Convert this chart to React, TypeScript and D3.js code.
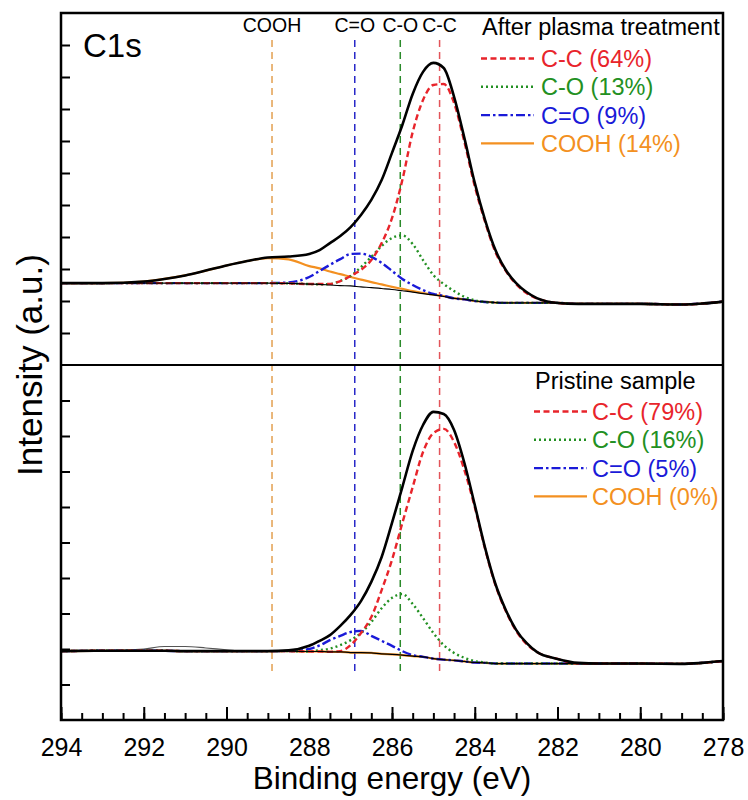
import React, { useEffect, useRef } from 'react';
import * as d3 from 'd3';

const WIDTH = 748;
const HEIGHT = 800;
const MARGIN = { top: 13, right: 25, bottom: 80, left: 61 };
const SPLIT = 365; // border between the two stacked panels
const FONT = '"Liberation Sans", Arial, sans-serif';

// binding energy grid (eV)
const energy = [294, 293, 292, 291.5, 291, 290.5, 290, 289.5, 289, 288.5, 288, 287.75, 287.5, 287.25, 287, 286.75, 286.5, 286.25, 286, 285.75, 285.5, 285.25, 285, 284.75, 284.5, 284.25, 284, 283.75, 283.5, 283.25, 283, 282.75, 282.5, 282, 281.5, 281, 280, 279, 278.5, 278];

// after plasma treatment
const topEnvelope = [25.6, 25.6, 26.1, 26.9, 28.0, 29.5, 31.1, 32.5, 33.6, 33.9, 34.7, 35.9, 38.1, 40.3, 43.1, 46.9, 51.6, 57.8, 66.3, 75.0, 84.7, 91.6, 94.4, 92.8, 83.8, 70.9, 56.9, 45.3, 35.9, 29.7, 25.6, 22.8, 20.9, 19.4, 19.1, 19.1, 19.1, 18.9, 19.2, 19.8];
const topBackground = [25.6, 25.6, 25.6, 25.6, 25.6, 25.6, 25.6, 25.6, 25.6, 25.5, 25.3, 25.2, 25.0, 24.8, 24.7, 24.4, 24.2, 23.9, 23.6, 23.2, 22.8, 22.3, 21.9, 21.4, 20.8, 20.5, 20.0, 19.7, 19.5, 19.4, 19.4, 19.4, 19.4, 19.4, 19.1, 19.1, 19.1, 18.9, 19.2, 19.8];
const topCC = [25.6, 25.6, 25.6, 25.6, 25.6, 25.6, 25.6, 25.6, 25.6, 25.5, 25.3, 25.3, 25.3, 26.2, 27.8, 29.7, 32.8, 38.1, 45.9, 57.8, 72.8, 82.8, 87.5, 87.8, 81.9, 69.7, 55.9, 44.7, 35.3, 29.4, 25.3, 22.5, 20.8, 19.4, 19.1, 19.1, 19.1, 18.9, 19.2, 19.8];
const topCO = [25.6, 25.6, 25.6, 25.6, 25.6, 25.6, 25.6, 25.6, 25.6, 25.5, 25.3, 25.2, 25.3, 26.3, 27.8, 30.6, 33.8, 37.2, 39.7, 40.5, 37.8, 32.8, 28.1, 25.3, 23.1, 21.3, 20.2, 19.7, 19.5, 19.4, 19.4, 19.4, 19.4, 19.4, 19.1, 19.1, 19.1, 18.9, 19.2, 19.8];
const topCdO = [25.6, 25.6, 25.6, 25.6, 25.6, 25.6, 25.6, 25.6, 25.6, 25.8, 27.5, 29.4, 31.3, 33.1, 34.7, 34.8, 33.8, 31.9, 29.4, 26.9, 25.0, 23.4, 22.2, 21.6, 20.8, 20.5, 20.0, 19.7, 19.5, 19.4, 19.4, 19.4, 19.4, 19.4, 19.1, 19.1, 19.1, 18.9, 19.2, 19.8];
const topCOOH = [25.6, 25.6, 26.1, 26.9, 28.0, 29.5, 31.1, 32.5, 33.4, 33.0, 30.9, 30.2, 29.2, 28.4, 27.5, 26.7, 25.9, 25.2, 24.4, 23.8, 23.1, 22.5, 22.0, 21.5, 20.9, 20.5, 20.0, 19.7, 19.5, 19.4, 19.4, 19.4, 19.4, 19.4, 19.1, 19.1, 19.1, 18.9, 19.2, 19.8];

// pristine sample
const bottomRaw = [19.4, 19.5, 20.0, 20.7, 20.7, 20.3, 19.8, 19.4, 19.4, 19.6, 20.9, 22.3, 23.9, 26.5, 29.6, 33.5, 38.9, 45.9, 55.5, 65.6, 75.8, 83.1, 86.8, 86.2, 81.7, 72.4, 60.6, 48.5, 38.3, 31.0, 25.4, 21.7, 19.2, 17.2, 16.1, 15.9, 15.9, 15.8, 16.1, 16.6];
const bottomEnvelope = [19.4, 19.5, 19.5, 19.5, 19.4, 19.4, 19.4, 19.4, 19.4, 19.6, 20.9, 22.3, 23.9, 26.5, 29.6, 33.5, 38.9, 45.9, 55.5, 65.6, 75.8, 83.1, 86.8, 86.2, 81.7, 72.4, 60.6, 48.5, 38.3, 31.0, 25.4, 21.7, 19.2, 17.2, 16.1, 15.9, 15.9, 15.8, 16.1, 16.6];
const bottomBackground = [19.4, 19.5, 19.5, 19.5, 19.4, 19.4, 19.4, 19.4, 19.4, 19.4, 19.3, 19.3, 19.2, 19.2, 19.0, 19.0, 18.9, 18.6, 18.5, 18.3, 18.0, 17.8, 17.3, 17.0, 16.8, 16.5, 16.2, 16.1, 15.9, 15.9, 15.9, 15.9, 15.9, 15.9, 15.9, 15.9, 15.9, 15.8, 16.1, 16.6];
const bottomCC = [19.4, 19.5, 19.5, 19.5, 19.4, 19.4, 19.4, 19.4, 19.4, 19.4, 19.3, 19.3, 19.2, 19.4, 21.1, 24.5, 29.0, 36.6, 45.1, 55.5, 65.6, 75.5, 80.8, 82.0, 78.3, 70.4, 60.0, 48.2, 38.0, 30.7, 25.1, 21.4, 19.2, 17.2, 15.9, 15.9, 15.9, 15.8, 16.1, 16.6];
const bottomCO = [19.4, 19.5, 19.5, 19.5, 19.4, 19.4, 19.4, 19.4, 19.4, 19.4, 19.3, 19.7, 20.1, 21.1, 22.5, 24.5, 27.6, 31.5, 34.4, 35.5, 32.7, 28.7, 24.5, 21.1, 18.9, 17.5, 16.6, 16.2, 15.9, 15.9, 15.9, 15.9, 15.9, 15.9, 15.9, 15.9, 15.9, 15.8, 16.1, 16.6];
const bottomCdO = [19.4, 19.5, 19.5, 19.5, 19.4, 19.4, 19.4, 19.4, 19.4, 19.4, 20.0, 21.0, 22.5, 23.7, 24.8, 25.1, 23.7, 22.3, 20.9, 19.4, 18.3, 17.8, 17.3, 17.0, 16.8, 16.5, 16.2, 16.1, 15.9, 15.9, 15.9, 15.9, 15.9, 15.9, 15.9, 15.9, 15.9, 15.8, 16.1, 16.6];
const bottomCOOH = bottomBackground; // 0 %

const components = ['C-C', 'C-O', 'C=O', 'COOH'];
const topShares = [64, 13, 9, 14];
const bottomShares = [79, 16, 5, 0];
const peakEnergy = [284.85, 285.8, 286.9, 288.9];
const xTicks = [294, 292, 290, 288, 286, 284, 282, 280, 278];

const compColor = ['#e8242b', '#229022', '#1a1ad8', '#f39021'];
const compDash = ['6,3.5', '2,3', '9,3,2.5,3', null];
const guideColor = ['#e2545a', '#2a8a2a', '#2828c8', '#e3a050'];

export default function App() {
  const ref = useRef<SVGSVGElement>(null);

  useEffect(() => {
    if (!ref.current) return;
    const svg = d3.select(ref.current);
    svg.selectAll('*').remove();

    const right = WIDTH - MARGIN.right;
    const bottom = HEIGHT - MARGIN.bottom;

    const x = d3.scaleLinear().domain([294, 278]).range([MARGIN.left, right]);
    const yTop = d3.scaleLinear().domain([0, 110]).range([SPLIT, MARGIN.top]);
    const yBottom = d3.scaleLinear().domain([0, 100]).range([bottom, SPLIT]);

    // vertical guide lines at the peak positions
    peakEnergy.forEach((e, i) => {
      svg.append('line')
        .attr('x1', x(e)).attr('x2', x(e))
        .attr('y1', 40).attr('y2', 672)
        .attr('stroke', guideColor[i])
        .attr('stroke-width', 1.5)
        .attr('stroke-dasharray', '7,5');
      svg.append('text')
        .attr('x', x(e))
        .attr('y', 32)
        .attr('text-anchor', 'middle')
        .style('font-family', FONT)
        .style('font-size', '19.5px')
        .text(components[i]);
    });

    const panels = [
      { y: yTop, env: topEnvelope, bg: topBackground, comps: [topCC, topCO, topCdO, topCOOH], raw: null as number[] | null },
      { y: yBottom, env: bottomEnvelope, bg: bottomBackground, comps: [bottomCC, bottomCO, bottomCdO, bottomCOOH], raw: bottomRaw },
    ];

    panels.forEach((p) => {
      const line = d3.line<number>()
        .x((_, i) => x(energy[i]))
        .y((d) => p.y(d))
        .curve(d3.curveMonotoneX);

      if (p.raw) {
        svg.append('path').attr('d', line(p.raw)!)
          .attr('fill', 'none').attr('stroke', '#555').attr('stroke-width', 1.1);
      }
      // draw COOH first so the others sit on top of it
      [3, 2, 1, 0].forEach((k) => {
        svg.append('path').attr('d', line(p.comps[k])!)
          .attr('fill', 'none')
          .attr('stroke', compColor[k])
          .attr('stroke-width', k === 3 ? 2.2 : 2.4)
          .attr('stroke-dasharray', compDash[k]);
      });
      svg.append('path').attr('d', line(p.bg)!)
        .attr('fill', 'none').attr('stroke', '#000').attr('stroke-width', 1.2);
      svg.append('path').attr('d', line(p.env)!)
        .attr('fill', 'none').attr('stroke', '#000').attr('stroke-width', 2.6);

      // y ticks, pointing inward, no labels
      const yAxis = d3.axisLeft(p.y)
        .tickValues(d3.range(10, p.y.domain()[1], 10))
        .tickSize(-9)
        .tickFormat(() => '');
      svg.append('g')
        .attr('transform', `translate(${MARGIN.left},0)`)
        .call(yAxis)
        .call((g) => g.select('.domain').remove())
        .selectAll('line').attr('stroke', '#000').attr('stroke-width', 2);
    });

    // x axis: minor and major ticks, inward
    const minor = d3.axisBottom(x).tickValues(d3.range(294, 277.9, -0.5)).tickSize(-7).tickFormat(() => '');
    svg.append('g')
      .attr('transform', `translate(0,${bottom})`)
      .call(minor)
      .call((g) => g.select('.domain').remove())
      .selectAll('line').attr('stroke', '#000').attr('stroke-width', 2);

    const major = d3.axisBottom(x).tickValues(xTicks).tickSize(-13).tickPadding(18).tickFormat(d3.format('d'));
    const gx = svg.append('g')
      .attr('transform', `translate(0,${bottom})`)
      .call(major);
    gx.select('.domain').remove();
    gx.selectAll('line').attr('stroke', '#000').attr('stroke-width', 2);
    gx.selectAll('text')
      .attr('fill', '#000')
      .style('font-family', FONT)
      .style('font-size', '25px');

    // frame and panel separator
    svg.append('rect')
      .attr('x', MARGIN.left).attr('y', MARGIN.top)
      .attr('width', right - MARGIN.left).attr('height', bottom - MARGIN.top)
      .attr('fill', 'none').attr('stroke', '#000').attr('stroke-width', 2.5);
    svg.append('line')
      .attr('x1', MARGIN.left).attr('x2', right)
      .attr('y1', SPLIT).attr('y2', SPLIT)
      .attr('stroke', '#000').attr('stroke-width', 2.2);

    // titles
    svg.append('text')
      .attr('x', 83).attr('y', 57)
      .style('font-family', FONT).style('font-size', '33px')
      .text('C1s');

    svg.append('text')
      .attr('x', (MARGIN.left + right) / 2).attr('y', 789)
      .attr('text-anchor', 'middle')
      .style('font-family', FONT).style('font-size', '31.5px')
      .text('Binding energy (eV)');

    svg.append('text')
      .attr('transform', `translate(42,${SPLIT}) rotate(-90)`)
      .attr('text-anchor', 'middle')
      .style('font-family', FONT).style('font-size', '35px')
      .text('Intensity (a.u.)');

    // legends
    const legends = [
      { title: 'After plasma treatment', tx: 482, ty: 35, lx: 481, textX: 541, y0: 67, shares: topShares },
      { title: 'Pristine sample', tx: 535, ty: 389, lx: 534, textX: 592, y0: 420, shares: bottomShares },
    ];
    legends.forEach((lg) => {
      svg.append('text')
        .attr('x', lg.tx).attr('y', lg.ty)
        .style('font-family', FONT).style('font-size', '23.5px')
        .text(lg.title);
      components.forEach((c, k) => {
        const by = lg.y0 + k * 28.3;
        svg.append('line')
          .attr('x1', lg.lx).attr('x2', lg.lx + 53)
          .attr('y1', by - 8.5).attr('y2', by - 8.5)
          .attr('stroke', compColor[k])
          .attr('stroke-width', 2.4)
          .attr('stroke-dasharray', compDash[k]);
        svg.append('text')
          .attr('x', lg.textX).attr('y', by)
          .attr('fill', compColor[k])
          .style('font-family', FONT).style('font-size', '23.5px')
          .text(`${c} (${lg.shares[k]}%)`);
      });
    });
  }, []);

  return (
    <svg
      ref={ref}
      width={WIDTH}
      height={HEIGHT}
      style={{ position: 'absolute', left: 0, top: 0, background: '#fff' }}
    />
  );
}
